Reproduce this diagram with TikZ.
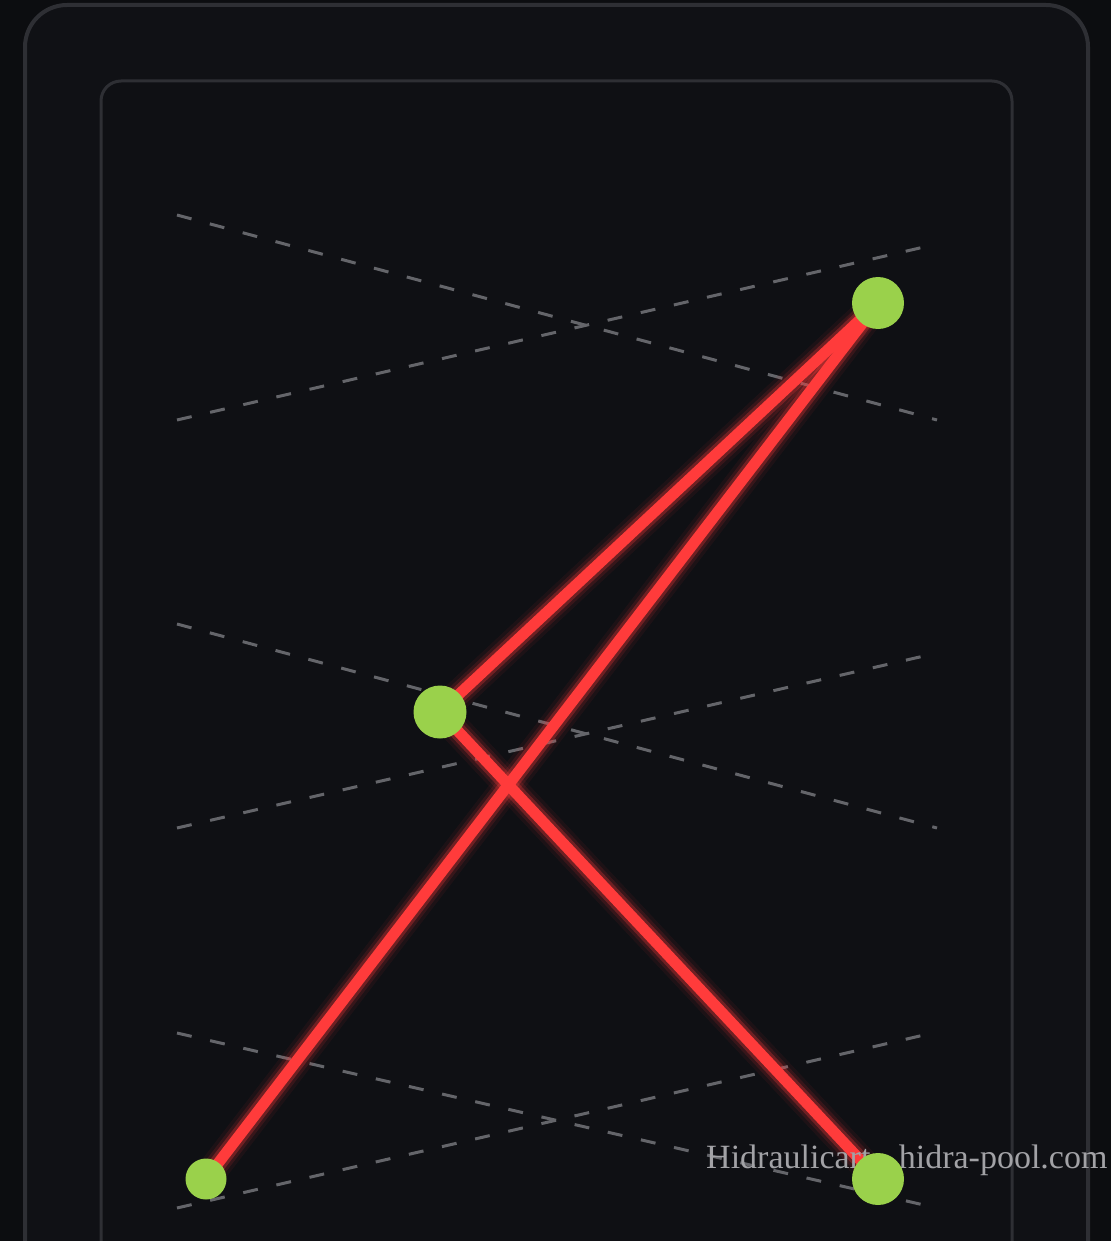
\documentclass[tikz,border=0pt]{standalone}
\usepackage{fontspec}
\setmainfont{Liberation Serif}
\pgfdeclarelayer{back}
\pgfdeclarelayer{mid}
\pgfsetlayers{back,mid,main}
\definecolor{pagebg}{HTML}{0C0D10}
\definecolor{outerbg}{HTML}{101115}
\definecolor{innerbg}{HTML}{0F1014}
\definecolor{framecol}{HTML}{2E2F34}
\definecolor{dashcol}{HTML}{64656A}
\definecolor{redline}{HTML}{FF3B3B}
\definecolor{greennode}{HTML}{9AD14B}
\definecolor{marktext}{HTML}{A2A2A6}
\tikzset{
  guide/.style={draw=dashcol, line width=3pt, dash pattern=on 15pt off 19pt},
  dot/.style={circle, fill=greennode, draw=none, inner sep=0pt, minimum size=#1},
  glowA/.style={draw=redline, line width=30pt, opacity=0.06, line cap=round},
  glowB/.style={draw=redline, line width=23pt, opacity=0.12, line cap=round},
  glowC/.style={draw=redline, line width=17pt, opacity=0.28, line cap=round},
  beam/.style={draw=redline, line width=11pt, line cap=round},
  frame/.style={draw=framecol, line join=round, line cap=round},
}
\begin{document}
\begin{tikzpicture}[x=1pt,y=-1pt]
\useasboundingbox (0,0) rectangle (1111,1241);
% nodes
\node[dot=52pt] (t) at (878,303) {};
\node[dot=53pt] (m) at (440,712) {};
\node[dot=41pt] (bl) at (206,1179) {};
\node[dot=52pt] (br) at (878,1179) {};
\begin{pgfonlayer}{back}
  \fill[pagebg] (0,0) rectangle (1111,1241);
  \filldraw[frame, line width=4pt, fill=outerbg] (25,1320) -- (25,47) arc[start angle=180, end angle=270, radius=42] -- (1046,5) arc[start angle=270, end angle=360, radius=42] -- (1088,1320);
  \filldraw[frame, line width=3pt, fill=innerbg] (101,1320) -- (101,101) arc[start angle=180, end angle=270, radius=20] -- (992,81) arc[start angle=270, end angle=360, radius=20] -- (1012,1320);
  % dashed guides
  \draw[guide] (177,215) -- (937,420);
  \draw[guide] (177,420) -- (937,244);
  \draw[guide] (177,624) -- (937,828);
  \draw[guide] (177,828) -- (937,653);
  \draw[guide] (177,1033) -- (937,1208);
  \draw[guide] (177,1208) -- (937,1032);
\end{pgfonlayer}
\begin{pgfonlayer}{mid}
  \foreach \s in {glowA,glowB,glowC,beam}{
    \draw[\s] (t.center) -- (m.center);
    \draw[\s] (t.center) -- (bl.center);
    \draw[\s] (m.center) -- (br.center);
  }
  \node[anchor=base west, inner sep=0pt, text=marktext, font=\fontsize{34}{40}\selectfont] (wm) at (706,1168) {Hidraulicart · hidra-pool.com};
\end{pgfonlayer}
\end{tikzpicture}
\end{document}
